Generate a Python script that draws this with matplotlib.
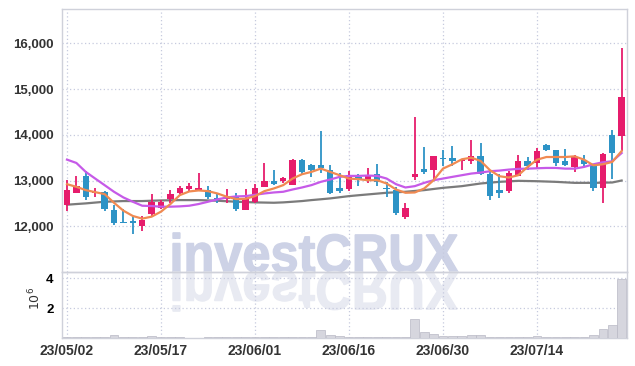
import numpy as np
import matplotlib
matplotlib.use('Agg')
import matplotlib.pyplot as plt
from matplotlib.textpath import TextPath
from matplotlib.patches import PathPatch
from matplotlib.font_manager import FontProperties
from matplotlib.transforms import Affine2D
from matplotlib.ticker import FuncFormatter

# daily candles, 60 trading days from 23/05/02
opens = [12470, 12730, 13090, 12730, 12740, 12355, 12095, 12110, 12010, 12260,
         12390, 12595, 12730, 12820, 12790, 12790, 12620, 12590, 12645, 12360,
         12540, 12860, 13000, 12985, 12913, 13440, 13340, 13340, 13225, 12826,
         12804, 13080, 12985, 13138, 12830, 12790, 12210, 13080, 13260, 13240,
         13485, 13500, 13430, 13427, 13529, 13152, 12790, 12775, 13101, 13435,
         13384, 13768, 13659, 13420, 13297, 13442, 13333, 12840, 14000, 13971]
closes = [12800, 12890, 12650, 12750, 12380, 12080, 12070, 12070, 12140, 12540,
          12530, 12700, 12835, 12880, 12830, 12645, 12590, 12620, 12380, 12590,
          12830, 12980, 12920, 13050, 13440, 13180, 13225, 13275, 12730, 12775,
          13116, 13007, 13116, 12971, 12820, 12300, 12390, 13152, 13188, 13529,
          13475, 13427, 13450, 13529, 13138, 12667, 12732, 13174, 13435, 13311,
          13638, 13659, 13384, 13333, 13514, 13370, 12840, 13572, 13601, 14833]
highs = [13010, 13100, 13210, 12840, 12780, 12460, 12380, 12230, 12230, 12700,
         12570, 12785, 12870, 12950, 13160, 12890, 12720, 12810, 12730, 12820,
         12930, 13390, 13240, 13080, 13470, 13480, 13355, 14090, 13335, 13170,
         13210, 13140, 13283, 13370, 12970, 12850, 12500, 14384, 13730, 13540,
         13660, 13746, 13460, 13890, 13826, 13210, 13152, 13210, 13565, 13514,
         13710, 13800, 13660, 13696, 13550, 13565, 13340, 13601, 14109, 15906]
lows = [12340, 12720, 12570, 12630, 12330, 12020, 12065, 11830, 11900, 12210,
        12370, 12515, 12700, 12760, 12775, 12600, 12515, 12500, 12340, 12355,
        12500, 12850, 12900, 12950, 12900, 13150, 13080, 13170, 12700, 12717,
        12775, 12890, 12950, 12891, 12645, 12246, 12150, 13007, 13152, 13020,
        13310, 13318, 13225, 13370, 13116, 12572, 12609, 12717, 13094, 13225,
        13260, 13650, 13326, 13311, 13188, 13297, 12775, 12500, 13029, 13645]

ma_short = [12920, 12862, 12790, 12746, 12703, 12514, 12341, 12225, 12167, 12210,
            12319, 12486, 12681, 12761, 12783, 12768, 12717, 12645, 12594, 12601,
            12659, 12768, 12826, 12899, 13043, 13138, 13188, 13261, 13188, 13116,
            13043, 13029, 13007, 13007, 12935, 12804, 12732, 12739, 12826, 13007,
            13261, 13355, 13464, 13500, 13428, 13225, 13094, 13065, 13116, 13297,
            13456, 13514, 13514, 13514, 13529, 13456, 13333, 13355, 13406, 13645]
ma_mid = [13457, 13384, 13188, 13043, 12899, 12754, 12630, 12536, 12449, 12442,
          12428, 12428, 12435, 12449, 12486, 12536, 12587, 12630, 12652, 12659,
          12688, 12717, 12739, 12754, 12804, 12848, 12899, 12971, 13022, 13080,
          13101, 13101, 13109, 13101, 13043, 12920, 12848, 12877, 12949, 13007,
          13043, 13080, 13116, 13152, 13174, 13203, 13217, 13239, 13254, 13260,
          13268, 13275, 13275, 13260, 13260, 13297, 13355, 13399, 13420, 13601]
ma_long = [12471, 12486, 12500, 12518, 12536, 12543, 12551, 12551, 12551, 12558,
           12565, 12568, 12572, 12572, 12572, 12565, 12558, 12547, 12536, 12529,
           12522, 12518, 12514, 12522, 12536, 12551, 12572, 12590, 12609, 12634,
           12659, 12678, 12696, 12714, 12732, 12743, 12754, 12772, 12790, 12815,
           12840, 12858, 12877, 12906, 12935, 12953, 12971, 12982, 12993, 12989,
           12985, 12978, 12971, 12960, 12949, 12949, 12949, 12953, 12957, 13000]

volume = [50e3, 40e3, 60e3, 40e3, 50e3, 180e3, 50e3, 40e3, 60e3, 110e3,
          50e3, 40e3, 50e3, 20e3, 20e3, 40e3, 50e3, 40e3, 50e3, 40e3,
          50e3, 60e3, 50e3, 40e3, 90e3, 50e3, 60e3, 560e3, 200e3, 120e3,
          100e3, 60e3, 50e3, 50e3, 60e3, 100e3, 60e3, 1280e3, 420e3, 280e3,
          130e3, 110e3, 120e3, 230e3, 180e3, 100e3, 60e3, 60e3, 100e3, 100e3,
          150e3, 100e3, 60e3, 100e3, 60e3, 60e3, 200e3, 600e3, 860e3, 3950e3]

tick_idx = [0, 10, 20, 30, 40, 50]
tick_labels = ['23/05/02', '23/05/17', '23/06/01', '23/06/16', '23/06/30', '23/07/14']

up_col = '#e61c6c'
down_col = '#2d93c6'
grid_col = '#c6cade'
spine_col = '#cfd1da'
ylab_font = dict(family=['Liberation Sans', 'DejaVu Sans'], weight='bold', size=9.5)
xlab_font = dict(family=['Liberation Sans', 'DejaVu Sans'], weight='bold', size=10)

fig = plt.figure(figsize=(6.35, 3.66), dpi=100)
fig.patch.set_facecolor('white')

# watermark with reflection (drawn behind the axes)
fp = FontProperties(family='Liberation Sans', weight='bold')
tp = TextPath((0, 0), 'investCRUX', size=54, prop=fp)
bb = tp.get_extents()
sx = 285.0 / bb.width
base_y = 366 - 272
wm = PathPatch(tp, transform=Affine2D().scale(sx, 1).translate(173 - bb.x0 * sx, base_y),
               fc='#cdd2e6', ec='#cdd2e6', lw=1.0, zorder=-2)
wm2 = PathPatch(tp, transform=Affine2D().scale(sx, -1).translate(173 - bb.x0 * sx, base_y),
                fc='#e8eaf2', ec='#e8eaf2', lw=1.0, zorder=-2)
fig.add_artist(wm)
fig.add_artist(wm2)

ax = fig.add_axes([62/635, 1 - 272/366, 565/635, 263/366])
axv = fig.add_axes([62/635, 1 - 338/366, 565/635, 66/366], sharex=ax)

x = np.arange(len(opens))
o = np.array(opens)
c = np.array(closes)
cols = [up_col if cc >= oo else down_col for oo, cc in zip(o, c)]

ax.vlines(x, lows, highs, colors=cols, linewidth=1.3, zorder=3)
body_h = np.maximum(np.abs(c - o), 25)
ax.bar(x, body_h, bottom=np.minimum(o, c), width=0.68, color=cols, zorder=4)

ax.plot(x, ma_long, color='#7b7b7b', linewidth=1.6, zorder=2)
ax.plot(x, ma_mid, color='#c65ae8', linewidth=1.6, zorder=5)
ax.plot(x, ma_short, color='#f08a52', linewidth=1.6, zorder=6)

ax.set_xlim(-0.53, 59.57)
ax.set_ylim(11000, 16750)
ax.set_yticks([12000, 13000, 14000, 15000, 16000])
ax.set_yticklabels(['12,000', '13,000', '14,000', '15,000', '16,000'], **ylab_font, color='#333333')
ax.set_xticks(tick_idx)
ax.tick_params(axis='x', labelbottom=False, length=0)
ax.tick_params(axis='y', length=0, pad=6)
ax.grid(True, linestyle=(0, (1, 2)), color=grid_col, linewidth=0.9)
ax.set_axisbelow(True)
ax.set_facecolor('none')

axv.bar(x, volume, width=0.92, color='#d6d6de', edgecolor='#b9b9c5', linewidth=0.5, zorder=3)
axv.set_ylim(0, 4.42e6)
axv.set_yticks([2e6, 4e6])
axv.yaxis.set_major_formatter(FuncFormatter(lambda v, p: '%d' % round(v / 1e6)))
for t in axv.get_yticklabels():
    t.set_fontproperties(FontProperties(family=['Liberation Sans', 'DejaVu Sans'], weight='bold', size=9.5))
axv.set_xticks(tick_idx)
axv.set_xticklabels(tick_labels, **xlab_font, color='#333333')
axv.tick_params(length=0, pad=4)
axv.tick_params(axis='y', pad=6)
axv.grid(True, linestyle=(0, (1, 2)), color=grid_col, linewidth=0.9)
axv.set_axisbelow(True)
axv.set_facecolor('none')
fig.text(35/635, 1 - 298/366, r'$10^6$', rotation=90, ha='center', va='center', fontsize=9, color='#333333')

for a in (ax, axv):
    for s in a.spines.values():
        s.set_color(spine_col)
        s.set_linewidth(1.0)

fig.savefig('out.png', dpi=100)
